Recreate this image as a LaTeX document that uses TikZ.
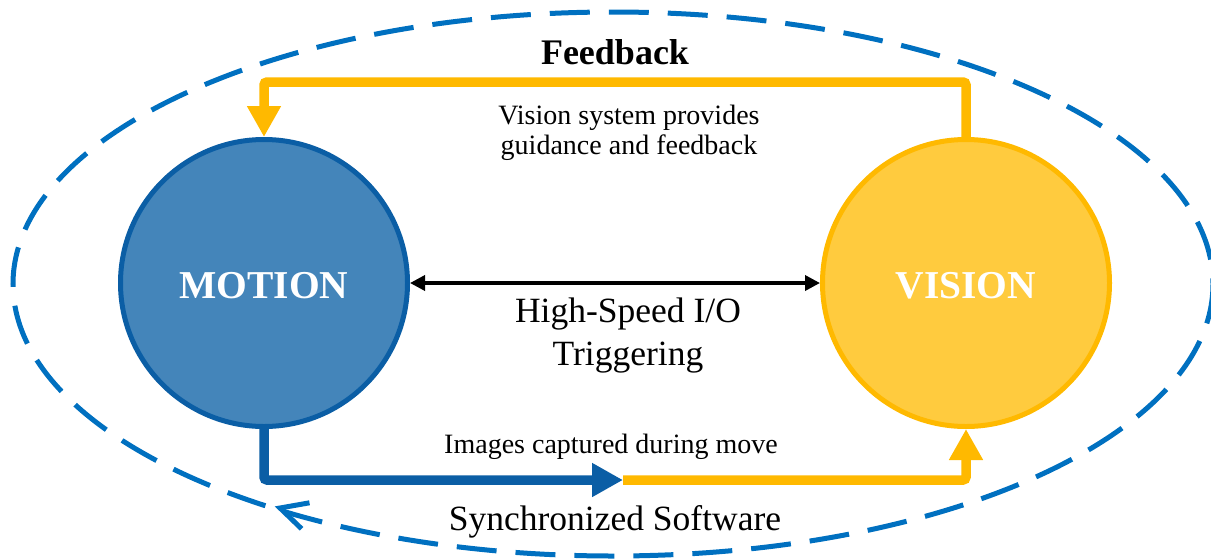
\documentclass[tikz,border=0pt]{standalone}
\usepackage{fontspec}
\setmainfont{Liberation Serif}
\usetikzlibrary{arrows.meta}
\definecolor{dashblue}{HTML}{0070C0}
\definecolor{motionfill}{HTML}{4485BA}
\definecolor{motionline}{HTML}{0B5EA5}
\definecolor{visionfill}{HTML}{FFCB3E}
\definecolor{visionline}{HTML}{FFB900}
\begin{document}
\begin{tikzpicture}[x=1pt,y=-1pt,
  circ/.style={circle, minimum size=287pt, inner sep=0pt, line width=5pt,
    font=\fontsize{39.5}{40}\selectfont\bfseries, text=white,
    text height=31pt, text depth=0pt},
  motionnode/.style={circ, draw=motionline, fill=motionfill},
  visionnode/.style={circ, draw=visionline, fill=visionfill},
  thickflow/.style={line width=9.5pt, rounded corners=3pt},
  bigtip/.style={-{Triangle[length=31pt,width=32pt]}},
  outer/.style={draw=dashblue, line width=5pt, dash pattern=on 40pt off 19pt},
  lbl/.style={anchor=base, align=center},
  smalltext/.style={lbl, font=\fontsize{28}{30}\selectfont},
  bigtext/.style={lbl, font=\fontsize{35.5}{43}\selectfont}
]
\useasboundingbox (0,0) rectangle (1211,558);
\begin{scope}
\clip (0,0) rectangle (1211,558);
\draw[outer] (613,284) ellipse [x radius=600, y radius=272];
\end{scope}
\draw[dashblue, line width=5pt] (309.5,502.8) -- (280,508) -- (301.6,528.8);

\node[motionnode] (m) at (264,283) {MOTION};
\node[visionnode] (v) at (966,283) {VISION};

% feedback loop
\coordinate (fb) at (615,82);
\draw[thickflow, visionline, bigtip] (v.north) -- (v.north |- fb) -- (m.north |- fb) -- (m.north);

% bottom flow
\coordinate (mid) at (623,480);
\draw[thickflow, visionline, bigtip] (mid) -- (mid -| v.south) -- (v.south);
\draw[thickflow, motionline, bigtip] (m.south) -- (m.south |- mid) -- (mid);

% I/O
\draw[line width=3.5pt, {Triangle[length=15pt,width=15pt]}-{Triangle[length=15pt,width=15pt]}] (m.east) -- (v.west);

\node[lbl, font=\fontsize{36}{40}\selectfont\bfseries] (fbl) at (615,64) {Feedback};
\node[smalltext] (guid) at (629,154) {Vision system provides\\guidance and feedback};
\node[bigtext] (io) at (628,365) {High-Speed I/O\\Triggering};
\node[smalltext] (img) at (611,453) {Images captured during move};
\node[bigtext] (sync) at (615,530) {Synchronized Software};
\end{tikzpicture}
\end{document}
